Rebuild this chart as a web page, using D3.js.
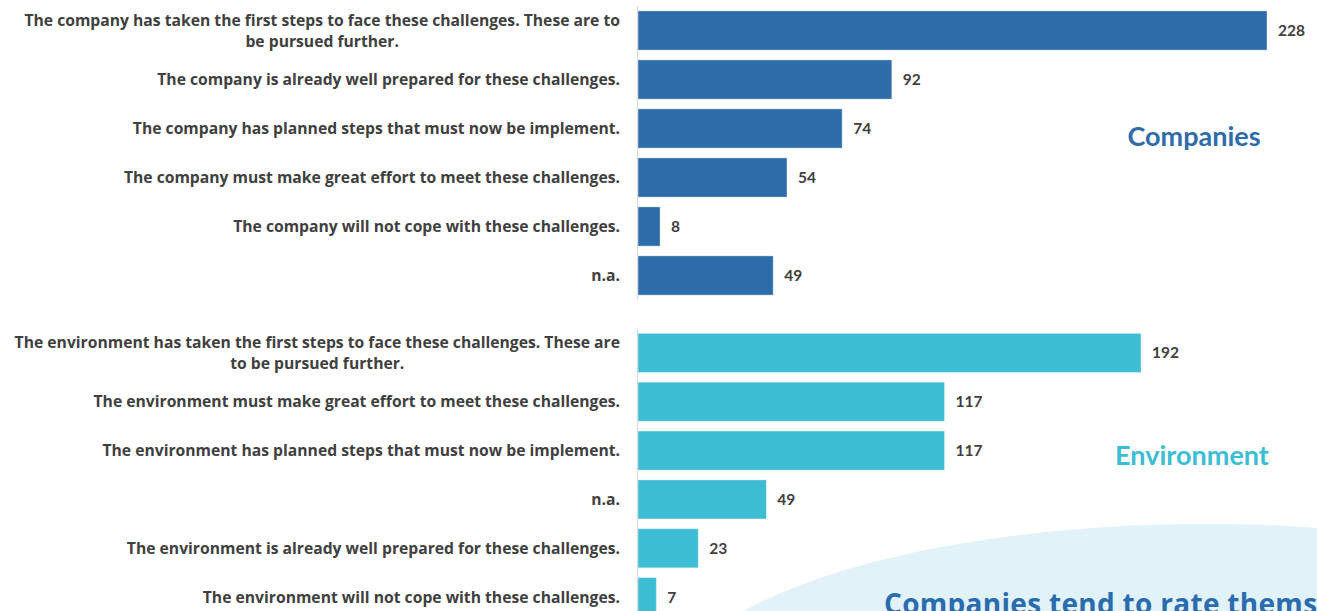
<!DOCTYPE html>
<html>
<head>
<meta charset="utf-8">
<script src="https://cdn.jsdelivr.net/npm/d3@7"></script>
<style>
  html, body { margin: 0; padding: 0; background: #ffffff; overflow: hidden; }
  svg { display: block; }
</style>
</head>
<body>
<svg id="chart" width="1317" height="611"></svg>
<script>
// Survey answers: how well prepared for the challenges ahead
const companyCategories = [
  "The company has taken the first steps to face these challenges. These are to be pursued further.",
  "The company is already well prepared for these challenges.",
  "The company has planned steps that must now be implement.",
  "The company must make great effort to meet these challenges.",
  "The company will not cope with these challenges.",
  "n.a."
];
const companyValues = [228, 92, 74, 54, 8, 49];

const environmentCategories = [
  "The environment has taken the first steps to face these challenges. These are to be pursued further.",
  "The environment must make great effort to meet these challenges.",
  "The environment has planned steps that must now be implement.",
  "n.a.",
  "The environment is already well prepared for these challenges.",
  "The environment will not cope with these challenges."
];
const environmentValues = [192, 117, 117, 49, 23, 7];

const groupTitles = ["Companies", "Environment"];
const calloutText = "Companies tend to rate themselves better than their environment";

const svg = d3.select("#chart");
const FONT = "Lato, 'Open Sans', sans-serif";
const LABEL_FONT = "'Open Sans', Lato, sans-serif";
const LABEL_SIZE = 15.7;
const LABEL_COLOR = "#404040";
const AXIS_X = 637.5;
const LABEL_RIGHT = 620;
const LABEL_MAX_W = 612;

// Callout bubble in the lower right corner (drawn first so it sits behind)
svg.append("ellipse")
  .attr("cx", 1205).attr("cy", 705)
  .attr("rx", 540).attr("ry", 181)
  .attr("fill", "#e1f2f9");

svg.append("text")
  .attr("x", 884).attr("y", 614)
  .attr("font-family", "'Open Sans', sans-serif")
  .attr("font-weight", 700)
  .attr("font-size", 28)
  .attr("letter-spacing", "0.3px")
  .attr("fill", "#2b6cae")
  .text(calloutText);

// Wrap a label into lines no wider than maxW; multi-line labels are centred
function drawLabel(sel, text, y) {
  const t = sel.append("text")
    .attr("font-family", LABEL_FONT)
    .attr("font-weight", 700)
    .attr("font-size", LABEL_SIZE)
    .attr("fill", LABEL_COLOR);
  const words = text.split(/\s+/);
  const lines = [];
  let line = [];
  const probe = t.append("tspan");
  for (const w of words) {
    line.push(w);
    probe.text(line.join(" "));
    if (probe.node().getComputedTextLength() > LABEL_MAX_W && line.length > 1) {
      line.pop();
      lines.push(line.join(" "));
      line = [w];
    }
  }
  lines.push(line.join(" "));
  probe.remove();

  const lineH = 21;
  if (lines.length === 1) {
    t.attr("text-anchor", "end")
      .attr("x", LABEL_RIGHT).attr("y", y).attr("dy", "0.35em")
      .text(lines[0]);
  } else {
    const widths = lines.map(l => {
      const s = t.append("tspan").text(l);
      const w = s.node().getComputedTextLength();
      s.remove();
      return w;
    });
    const cx = Math.max(LABEL_RIGHT - d3.max(widths) / 2, d3.max(widths) / 2 + 1);
    t.attr("text-anchor", "middle");
    lines.forEach((l, i) => {
      t.append("tspan")
        .attr("x", cx)
        .attr("y", y + (i - (lines.length - 1) / 2) * lineH + 0.5)
        .attr("dy", "0.35em")
        .text(l);
    });
  }
}

function drawGroup(cfg) {
  const g = svg.append("g");
  const y = d3.scaleBand()
    .domain(cfg.categories)
    .range(cfg.yRange)
    .paddingInner(0.2)
    .paddingOuter(0.1);
  const x = d3.scaleLinear()
    .domain([0, d3.max(cfg.values)])
    .range([AXIS_X + 0.5, cfg.xMax]);

  const data = cfg.categories.map((c, i) => ({ c, v: cfg.values[i] }));

  g.selectAll("rect.bar").data(data).join("rect")
    .attr("class", "bar")
    .attr("x", x(0))
    .attr("y", d => y(d.c))
    .attr("width", d => x(d.v) - x(0))
    .attr("height", y.bandwidth())
    .attr("fill", cfg.color)
    .attr("stroke", "rgba(255,255,255,0.35)")
    .attr("stroke-width", 1);

  g.selectAll("text.val").data(data).join("text")
    .attr("class", "val")
    .attr("x", d => x(d.v) + 11)
    .attr("y", d => y(d.c) + y.bandwidth() / 2)
    .attr("dy", "0.35em")
    .attr("font-family", FONT)
    .attr("font-weight", 700)
    .attr("font-size", 15.5)
    .attr("fill", LABEL_COLOR)
    .text(d => d.v);

  // category axis line
  g.append("line")
    .attr("x1", AXIS_X).attr("x2", AXIS_X)
    .attr("y1", cfg.yRange[0]).attr("y2", cfg.yRange[1])
    .attr("stroke", "#d9d9d9").attr("stroke-width", 1.2);

  data.forEach(d => drawLabel(g, d.c, y(d.c) + y.bandwidth() / 2));

  g.append("text")
    .attr("x", cfg.titlePos[0]).attr("y", cfg.titlePos[1])
    .attr("dy", "0.35em")
    .attr("text-anchor", "middle")
    .attr("font-family", FONT)
    .attr("font-weight", 700)
    .attr("font-size", 27)
    .attr("fill", cfg.color)
    .text(cfg.title);
}

drawGroup({
  categories: companyCategories,
  values: companyValues,
  yRange: [6, 300],
  xMax: 1267,
  color: "#2e6daa",
  title: groupTitles[0],
  titlePos: [1194, 137]
});

drawGroup({
  categories: environmentCategories,
  values: environmentValues,
  yRange: [328.5, 621.5],
  xMax: 1141,
  color: "#3dbdd3",
  title: groupTitles[1],
  titlePos: [1192, 456]
});
</script>
</body>
</html>
